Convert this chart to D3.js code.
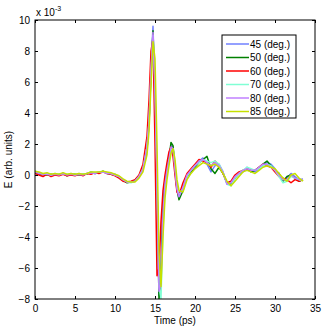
<!DOCTYPE html>
<html>
<head>
<meta charset="utf-8">
<script src="https://cdn.jsdelivr.net/npm/d3@7"></script>
<style>
  body { margin: 0; background: #fff; }
  text { font-family: "Liberation Sans", Arial, sans-serif; }
</style>
</head>
<body>
<div id="chart"></div>
<script>
// time axis (ps), shared by all series
var times = [0,0.5,1,1.5,2,2.5,3,3.5,4,4.5,5,5.5,6,6.5,7,7.5,8,8.5,9,9.5,10,10.5,11,11.5,12,
  12.5,13,13.5,14,
  14.25,14.5,14.75,15,15.25,15.5,15.75,16,16.25,16.5,16.75,17,17.25,17.5,17.75,18,
  18.5,19,19.5,20,20.5,21,21.5,22,22.5,23,23.5,24,24.5,25,25.5,26,26.5,27,27.5,28,28.5,29,29.5,30,30.5,31,31.5,32,32.5,33,33.5];

// field values in units of 1e-3
var e45 = [0.2,0.1,0.0,0.1,-0.05,0.05,0.0,0.1,0.0,0.05,0.0,0.05,0.0,0.1,0.15,0.1,0.2,0.2,0.15,0.1,0.05,-0.1,-0.3,-0.45,-0.45,
  -0.4,-0.1,0.4,1.6,
  3.5,6.8,9.6,5.0,-1.0,-7.8,-6.0,-1.5,-0.3,0.5,1.2,1.9,1.8,0.3,-1.0,-1.5,
  -0.8,0.0,0.3,0.6,0.9,1.1,0.7,0.2,0.6,0.7,0.2,-0.6,-0.5,-0.1,0.1,0.2,0.5,0.3,0.2,0.4,0.6,0.8,0.7,0.4,0.0,-0.3,-0.2,0.1,-0.1,-0.3,-0.25];
var e50 = [0.15,0.05,0.05,0.0,0.05,0.0,0.05,0.1,-0.05,0.05,0.05,0.0,0.05,0.05,0.2,0.1,0.15,0.25,0.1,0.05,0.0,-0.15,-0.35,-0.5,-0.45,
  -0.35,-0.05,0.4,1.7,
  3.3,6.5,9.3,5.2,-0.6,-8.0,-6.5,-2.0,-0.6,0.3,1.0,2.1,1.9,0.5,-0.9,-1.6,
  -1.0,-0.1,0.2,0.5,0.8,1.0,1.2,0.4,0.1,0.5,0.1,-0.5,-0.6,-0.2,0.1,0.3,0.4,0.2,0.3,0.5,0.7,0.9,0.6,0.3,0.1,-0.4,-0.1,0.0,-0.2,-0.4,-0.3];
var e60 = [0.1,0.0,-0.1,0.05,-0.1,0.0,-0.05,0.05,-0.05,0.0,-0.05,0.05,-0.05,0.1,0.05,0.15,0.1,0.2,0.1,0.05,-0.05,-0.2,-0.4,-0.45,-0.4,
  -0.3,0.0,0.7,2.5,
  4.8,8.0,8.8,2.0,-6.5,-6.0,-3.0,-1.0,0.0,0.8,1.5,1.8,1.2,0.0,-1.1,-1.3,
  -0.5,0.1,0.4,0.7,1.0,0.9,0.8,0.5,0.9,0.6,0.1,-0.5,-0.4,0.0,0.2,0.3,0.4,0.3,0.3,0.5,0.7,0.6,0.5,0.2,-0.1,-0.2,-0.3,-0.5,-0.3,-0.4,-0.3];
var e70 = [0.25,0.15,0.05,0.1,0.0,0.1,0.05,0.1,0.05,0.1,0.0,0.1,0.05,0.1,0.2,0.15,0.2,0.2,0.15,0.1,0.0,-0.1,-0.3,-0.45,-0.5,
  -0.4,-0.1,0.4,1.8,
  3.4,6.6,9.0,6.0,0.0,-7.2,-8.0,-3.5,-1.0,0.0,0.8,1.6,1.7,0.6,-0.8,-1.3,
  -0.9,-0.1,0.3,0.6,0.8,1.0,0.9,0.8,0.9,0.7,0.2,-0.6,-0.7,-0.2,0.1,0.3,0.5,0.4,0.3,0.4,0.6,0.7,0.6,0.3,-0.1,-0.5,-0.4,-0.1,-0.2,-0.3,-0.35];
var e80 = [0.2,0.1,0.05,0.05,0.0,0.05,0.0,0.1,0.0,0.05,0.0,0.05,0.0,0.1,0.15,0.1,0.2,0.2,0.1,0.1,0.0,-0.1,-0.3,-0.45,-0.45,
  -0.4,-0.1,0.4,1.8,
  3.4,6.7,9.2,5.5,-0.5,-7.5,-7.0,-2.5,-0.6,0.3,1.0,1.8,1.7,0.4,-0.9,-1.4,
  -0.8,0.0,0.3,0.6,0.9,1.0,0.8,0.6,0.8,0.6,0.2,-0.6,-0.5,-0.1,0.1,0.3,0.4,0.3,0.3,0.5,0.7,0.7,0.5,0.3,0.0,-0.3,-0.3,0.0,-0.2,-0.3,-0.3];
var e85 = [0.25,0.2,0.1,0.15,0.05,0.1,0.05,0.15,0.05,0.1,0.05,0.1,0.05,0.1,0.2,0.2,0.2,0.25,0.2,0.15,0.05,-0.05,-0.25,-0.4,-0.45,
  -0.45,-0.2,0.2,1.3,
  2.8,5.8,8.6,7.5,2.0,-5.0,-7.2,-4.0,-1.5,-0.3,0.6,1.4,1.7,1.0,-0.3,-1.0,
  -1.1,-0.3,0.1,0.4,0.6,0.8,0.7,0.6,0.7,0.5,0.1,-0.4,-0.7,-0.4,-0.1,0.2,0.3,0.2,0.1,0.3,0.5,0.6,0.5,0.4,0.1,-0.2,-0.4,0.0,0.1,-0.2,-0.4];

var labels = ["45 (deg.)", "50 (deg.)", "60 (deg.)", "70 (deg.)", "80 (deg.)", "85 (deg.)"];
var colors = ["#7080ff", "#008000", "#ff0000", "#80ffd4", "#c080ff", "#c5e000"];
var seriesList = [e45, e50, e60, e70, e80, e85];

var xTicks = [0, 5, 10, 15, 20, 25, 30, 35];
var yTicks = [-8, -6, -4, -2, 0, 2, 4, 6, 8, 10];

var W = 327, H = 326;
var margin = { top: 20, right: 12, bottom: 27, left: 35 },
    width = W - margin.left - margin.right,
    height = H - margin.top - margin.bottom;

var svg = d3.select("#chart")
    .append("svg")
    .attr("width", W)
    .attr("height", H);

var g = svg.append("g")
    .attr("transform", "translate(" + margin.left + "," + margin.top + ")");

var x = d3.scaleLinear().domain([0, 35]).range([0, width]);
var y = d3.scaleLinear().domain([-8, 10]).range([height, 0]);

g.append("clipPath").attr("id", "clip")
    .append("rect").attr("width", width).attr("height", height);

// lines
var line = d3.line()
    .x(function (d, i) { return x(times[i]); })
    .y(function (d) { return y(d); });

g.append("g").attr("clip-path", "url(#clip)")
    .selectAll("path")
    .data(seriesList)
    .enter()
    .append("path")
    .attr("d", line)
    .attr("fill", "none")
    .attr("stroke", function (d, i) { return colors[i]; })
    .attr("stroke-width", 1.5)
    .attr("stroke-linejoin", "round");

// axes, matlab style: ticks inside on all four sides
function styleAxis(sel) {
    sel.select(".domain").remove();
    sel.selectAll("line").attr("stroke", "#000");
    sel.selectAll("text").attr("font-size", 10).attr("fill", "#000");
}
g.append("g")
    .attr("transform", "translate(0," + height + ")")
    .call(d3.axisBottom(x).tickValues(xTicks).tickSizeInner(-3).tickSizeOuter(0).tickPadding(6))
    .call(styleAxis);
g.append("g")
    .call(d3.axisTop(x).tickValues(xTicks).tickSizeInner(-3).tickSizeOuter(0).tickFormat(""))
    .call(styleAxis);
g.append("g")
    .call(d3.axisLeft(y).tickValues(yTicks).tickSizeInner(-3).tickSizeOuter(0).tickPadding(5))
    .call(styleAxis);
g.append("g")
    .attr("transform", "translate(" + width + ",0)")
    .call(d3.axisRight(y).tickValues(yTicks).tickSizeInner(-3).tickSizeOuter(0).tickFormat(""))
    .call(styleAxis);

g.append("rect")
    .attr("width", width).attr("height", height)
    .attr("fill", "none").attr("stroke", "#000").attr("stroke-width", 1);

// exponent
var ex = g.append("text").attr("x", 1).attr("y", -4).attr("font-size", 10);
ex.append("tspan").text("x 10");
ex.append("tspan").attr("dy", -5).attr("font-size", 7).text("-3");

// axis labels
g.append("text")
    .attr("x", width / 2).attr("y", height + 25)
    .attr("text-anchor", "middle").attr("font-size", 10)
    .text("Time (ps)");
g.append("text")
    .attr("transform", "translate(" + (-23) + "," + (height / 2) + ") rotate(-90)")
    .attr("text-anchor", "middle").attr("font-size", 10)
    .text("E (arb. units)");

// legend
var leg = svg.append("g").attr("transform", "translate(222,35)");
leg.append("rect")
    .attr("width", 74).attr("height", 83)
    .attr("fill", "#fff").attr("stroke", "#000").attr("stroke-width", 1);
var item = leg.selectAll(".item")
    .data(labels)
    .enter()
    .append("g")
    .attr("transform", function (d, i) { return "translate(0," + (9 + i * 13.5) + ")"; });
item.append("line")
    .attr("x1", 4).attr("x2", 27)
    .attr("stroke", function (d, i) { return colors[i]; })
    .attr("stroke-width", 1.5);
item.append("text")
    .attr("x", 28).attr("y", 3.5)
    .attr("font-size", 10)
    .text(function (d) { return d; });
</script>
</body>
</html>
